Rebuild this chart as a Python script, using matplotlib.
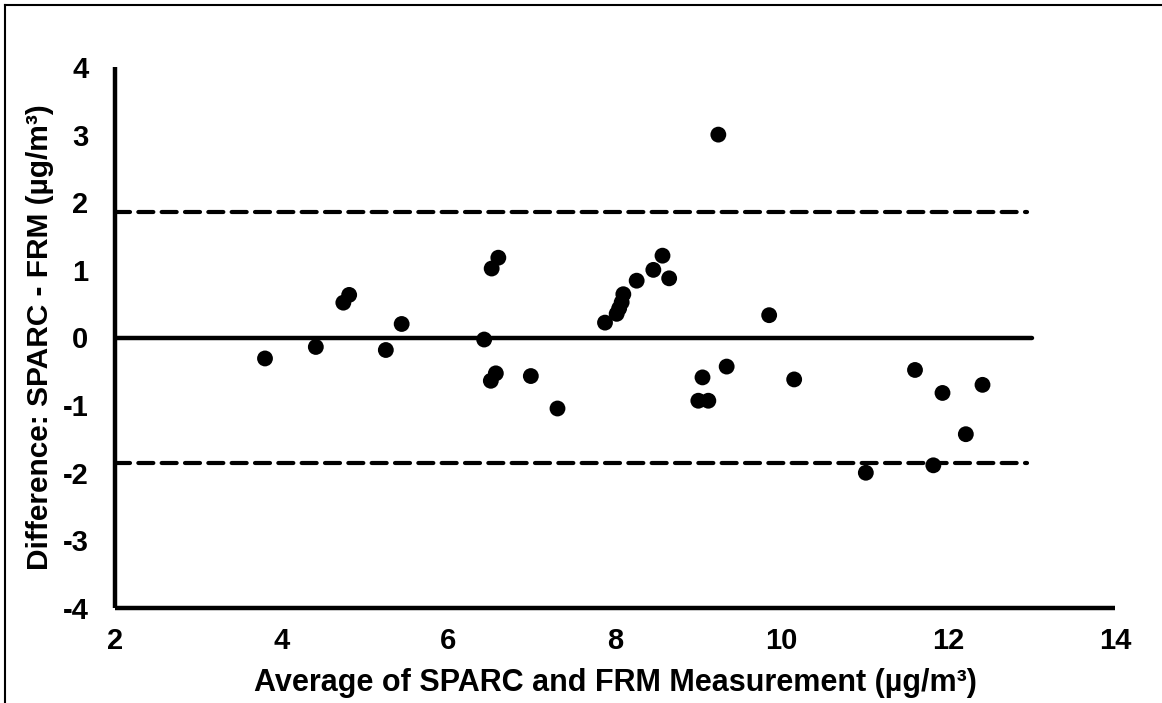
import matplotlib
matplotlib.use("Agg")
import matplotlib.pyplot as plt
from matplotlib.lines import Line2D

# Data
avg = [3.80, 4.41, 4.74, 4.81, 5.25, 5.44, 6.43, 6.51, 6.57, 6.99, 7.31,
       7.88, 8.02, 8.05, 8.08, 8.10, 8.26, 8.46, 8.57, 8.65, 6.52, 6.60,
       9.00, 9.12, 9.05, 9.24, 9.34, 9.85, 10.15, 11.01, 11.60, 11.82,
       11.93, 12.21, 12.41]
diff = [-0.31, -0.14, 0.515, 0.63, -0.185, 0.20, -0.03, -0.64, -0.53, -0.57,
        -1.05, 0.22, 0.35, 0.43, 0.52, 0.64, 0.84, 1.00, 1.21, 0.875, 1.02,
        1.18, -0.935, -0.935, -0.59, 3.00, -0.43, 0.33, -0.62, -2.00, -0.48,
        -1.89, -0.82, -1.43, -0.70]
mean_line = 0.0
upper_loa = 1.86
lower_loa = -1.85
line_x = [2, 13]
x_ticks = [2, 4, 6, 8, 10, 12, 14]
y_ticks = [-4, -3, -2, -1, 0, 1, 2, 3, 4]

plt.rcParams['font.family'] = ['Liberation Sans', 'DejaVu Sans']
plt.rcParams['font.weight'] = 'bold'

fig = plt.figure(figsize=(11.62, 7.03), dpi=100)
ax = fig.add_axes([115/1162, 95/703, 1000/1162, 541/703])

ax.plot(line_x, [mean_line, mean_line], color='black', lw=3.2,
        solid_capstyle='round', zorder=2)
for v in (upper_loa, lower_loa):
    ax.plot([2, 12.95], [v, v], color='black', lw=3.0,
            dashes=(3.6, 2.0), dash_capstyle='round', zorder=2)

ax.scatter(avg, diff, s=130, color='black', edgecolors='none', zorder=3)

ax.set_xlim(2, 14)
ax.set_ylim(-4, 4)
ax.set_xticks(x_ticks)
ax.set_yticks(y_ticks)
ax.set_xticklabels([str(t) for t in x_ticks])
ax.set_yticklabels([str(t) for t in y_ticks])
ax.tick_params(axis='both', length=0, labelsize=21)
ax.tick_params(axis='y', pad=19)
ax.tick_params(axis='x', pad=14)
for lab in ax.get_xticklabels() + ax.get_yticklabels():
    lab.set_fontweight('bold')

for s in ('top', 'right'):
    ax.spines[s].set_visible(False)
for s in ('left', 'bottom'):
    ax.spines[s].set_linewidth(3.2)
    ax.spines[s].set_capstyle('butt')

ax.set_xlabel('Average of SPARC and FRM Measurement (µg/m³)',
              fontsize=22, fontweight='bold', labelpad=9)
ax.set_ylabel('Difference: SPARC - FRM (µg/m³)',
              fontsize=21.5, fontweight='bold', labelpad=6)

# outer frame (top and left)
fig.add_artist(Line2D([5/1162, 1], [1 - 5/703, 1 - 5/703],
                      transform=fig.transFigure, color='black', lw=1.5))
fig.add_artist(Line2D([5/1162, 5/1162], [0, 1 - 5/703],
                      transform=fig.transFigure, color='black', lw=1.5))

fig.savefig('out.png', dpi=100)
